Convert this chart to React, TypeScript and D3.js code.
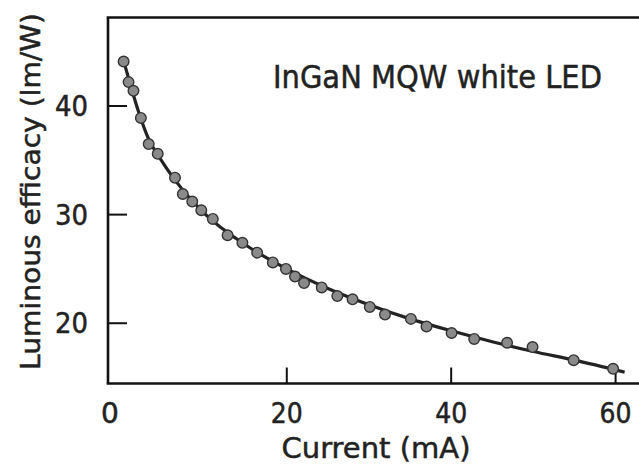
import React from "react";
import * as d3 from "d3";

// Measured data (Current in mA, Luminous efficacy in lm/W)
const currentMA = [0.15, 0.75, 1.35, 2.25, 3.2, 4.3, 6.4, 7.35, 8.5, 9.6, 11.0, 12.8, 14.6, 16.4, 18.3, 19.9, 21.0, 22.1, 24.25, 26.15, 28.0, 30.1, 31.95, 35.1, 37.0, 40.05, 42.8, 46.8, 49.9, 54.9, 59.7];
const efficacy = [44.1, 42.2, 41.4, 38.9, 36.5, 35.6, 33.4, 31.9, 31.2, 30.4, 29.6, 28.1, 27.4, 26.5, 25.6, 25.0, 24.3, 23.7, 23.3, 22.5, 22.2, 21.5, 20.8, 20.4, 19.7, 19.1, 18.55, 18.2, 17.8, 16.6, 15.8];

// Fitted curve
const fitCurrent = [0.1, 1, 2, 3, 5, 7, 10, 15, 20, 25, 30, 35, 40, 45, 50, 55, 61.1];
const fitEfficacy = [44.3, 41.9, 39.4, 37.3, 34.7, 32.6, 30.1, 27.2, 25.0, 23.2, 21.7, 20.4, 19.3, 18.3, 17.4, 16.6, 15.5];

const xTicks = [20, 40, 60];
const yTicks = [20, 30, 40];
const xDomain = [-1.75, 62.85];
const yDomain = [14.45, 48.15];

const W = 639;
const H = 471;
const left = 108;
const right = 639;
const top = 17.5;
const bottom = 383.5;

const FONT = "'DejaVu Sans', 'Liberation Sans', Arial, sans-serif";

export default function App() {
  const x = d3.scaleLinear().domain(xDomain).range([left, right]);
  const y = d3.scaleLinear().domain(yDomain).range([bottom, top]);

  const fit = fitCurrent.map((c, i) => [c, fitEfficacy[i]] as [number, number]);
  const lineGen = d3
    .line<[number, number]>()
    .x((d) => x(d[0]))
    .y((d) => y(d[1]))
    .curve(d3.curveMonotoneX);

  const txt = { fontFamily: FONT, fill: "#222", stroke: "#222", strokeWidth: 0.5 };

  return (
    <svg
      width={W}
      height={H}
      style={{ position: "absolute", left: 0, top: 0, background: "#fff" }}
    >
      <rect x={0} y={0} width={W} height={H} fill="#fff" />
      {/* frame */}
      <g stroke="#111" strokeWidth={2.6} fill="none">
        <line x1={left} x2={left} y1={top} y2={bottom} />
        <line x1={left - 1.3} x2={right} y1={top} y2={top} />
        <line x1={left - 1.3} x2={right} y1={bottom} y2={bottom} />
      </g>
      {/* ticks */}
      <g stroke="#111" strokeWidth={2}>
        {xTicks.map((t) => (
          <line key={"xt" + t} x1={x(t)} x2={x(t)} y1={bottom} y2={bottom - 16} />
        ))}
        {yTicks.map((t) => (
          <line key={"yt" + t} x1={left} x2={left + 19} y1={y(t)} y2={y(t)} />
        ))}
      </g>
      {/* tick labels */}
      <g {...txt} fontSize={28}>
        <text x={x(xDomain[0]) + 2} y={423} textAnchor="middle">0</text>
        {xTicks.map((t) => (
          <text key={"xl" + t} x={x(t)} y={423} textAnchor="middle" textLength={32} lengthAdjust="spacingAndGlyphs">
            {t}
          </text>
        ))}
        {yTicks.map((t) => (
          <text key={"yl" + t} x={88} y={y(t) + 10} textAnchor="end" textLength={33} lengthAdjust="spacingAndGlyphs">
            {t}
          </text>
        ))}
      </g>
      {/* axis titles */}
      <text
        {...txt}
        x={376}
        y={458}
        textAnchor="middle"
        fontSize={28}
        textLength={189}
        lengthAdjust="spacingAndGlyphs"
      >
        Current (mA)
      </text>
      <text
        {...txt}
        transform="translate(40,191.5) rotate(-90)"
        textAnchor="middle"
        fontSize={27}
        textLength={357}
        lengthAdjust="spacingAndGlyphs"
      >
        Luminous efficacy (lm/W)
      </text>
      <text
        {...txt}
        x={273}
        y={88}
        fontSize={32}
        textLength={329}
        lengthAdjust="spacingAndGlyphs"
      >
        InGaN MQW white LED
      </text>
      {/* fitted curve */}
      <path d={lineGen(fit) || ""} fill="none" stroke="#222" strokeWidth={3.2} />
      {/* data points */}
      <g>
        {currentMA.map((c, i) => (
          <circle
            key={"p" + i}
            cx={x(c)}
            cy={y(efficacy[i])}
            r={5.3}
            fill="#8a8a8a"
            stroke="#333"
            strokeWidth={1.4}
          />
        ))}
      </g>
    </svg>
  );
}
